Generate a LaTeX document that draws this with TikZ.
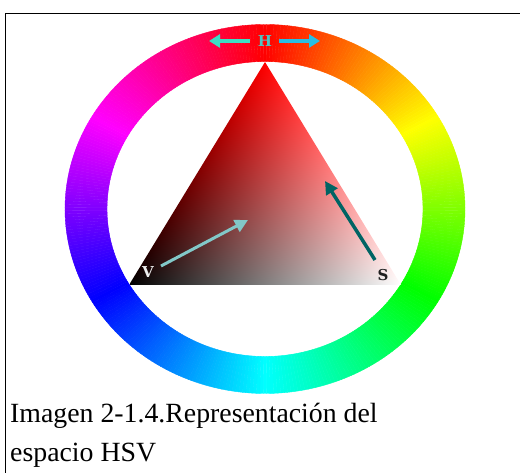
\documentclass[tikz,border=0pt]{standalone}
\usepackage{fontspec}
\setmainfont{Liberation Serif}
\newfontfamily\labfont{DejaVu Serif}
\usetikzlibrary{arrows.meta}
\definecolor{hleft}{RGB}{60,222,196}
\definecolor{hright}{RGB}{40,190,228}
\definecolor{hlab}{RGB}{80,196,196}
\definecolor{varrow}{RGB}{130,200,200}
\definecolor{sarrow}{RGB}{0,100,100}
\definecolor{vlab}{RGB}{238,238,238}
\definecolor{slab}{RGB}{32,32,32}
\pgfdeclarefunctionalshading{hsvtri}{\pgfpoint{0bp}{0bp}}{\pgfpoint{272bp}{223bp}}{}{
 223 div
 dup 136 mul
 3 -1 roll
 exch sub 272 div
 exch
 1 index add
 exch dup
}
\tikzset{
  harrow/.style={line width=4bp,-{Triangle[length=11bp,width=13bp]}},
  innerarrow/.style={line width=3bp,-{Triangle[length=13bp,width=13bp]}},
  letter/.style={font=\labfont\bfseries\fontsize{15bp}{15bp}\selectfont, inner sep=0pt},
  caption/.style={font=\fontsize{27.8bp}{39bp}\selectfont, inner sep=0pt, anchor=base west, align=left}
}
\begin{document}
\begin{tikzpicture}[x=1bp,y=1bp]
\useasboundingbox (0,0) rectangle (520,473);
% frame
\draw[line width=1.3bp] (5.5,-2) -- (5.5,459.5) -- (522,459.5);
% hue ring
\foreach \a in {0,...,359} {
  \pgfmathsetmacro\hr{min(1,max(0,abs(\a/60-3)-1))}
  \pgfmathsetmacro\hg{min(1,max(0,2-abs(\a/60-2)))}
  \pgfmathsetmacro\hb{min(1,max(0,2-abs(\a/60-4)))}
  \definecolor{hc}{rgb}{\hr,\hg,\hb}
  \fill[hc, draw=hc, line width=0.4bp]
    ({265+200*sin(\a-0.5)},{264+184.5*cos(\a-0.5)}) --
    ({265+200*sin(\a+0.5)},{264+184.5*cos(\a+0.5)}) --
    ({265+158*sin(\a+0.5)},{264+147.5*cos(\a+0.5)}) --
    ({265+158*sin(\a-0.5)},{264+147.5*cos(\a-0.5)}) -- cycle;
}
% triangle
\coordinate (BL) at (129,188);
\coordinate (BR) at (401,188);
\coordinate (T) at (265,411);
\begin{scope}
  \clip (BL) -- (BR) -- (T) -- cycle;
  \node[inner sep=0pt, outer sep=0pt, anchor=south west] (shade) at (BL) {\pgfuseshading{hsvtri}};
\end{scope}
% H
\node[letter, text=hlab] (H) at (265,432) {H};
\coordinate (hlt) at (250,432);
\coordinate (hlh) at (209,432);
\coordinate (hrt) at (279,432);
\coordinate (hrh) at (320,432);
\draw[harrow, hleft] (hlt) -- (hlh);
\draw[harrow, hright] (hrt) -- (hrh);
% V
\node[letter, text=vlab] (V) at (148,201) {V};
\coordinate (vt) at (161,207);
\coordinate (vh) at (248,253);
\draw[innerarrow, varrow] (vt) -- (vh);
% S
\node[letter, text=slab] (S) at (383,198) {S};
\coordinate (st) at (375,213);
\coordinate (sh) at (325,292);
\draw[innerarrow, sarrow, line width=3.5bp] (st) -- (sh);
% caption
\node[caption] (cap1) at (10,50) {Imagen 2-1.4.Representación del};
\node[caption] (cap2) at (10,11) {espacio HSV};
\end{tikzpicture}
\end{document}
